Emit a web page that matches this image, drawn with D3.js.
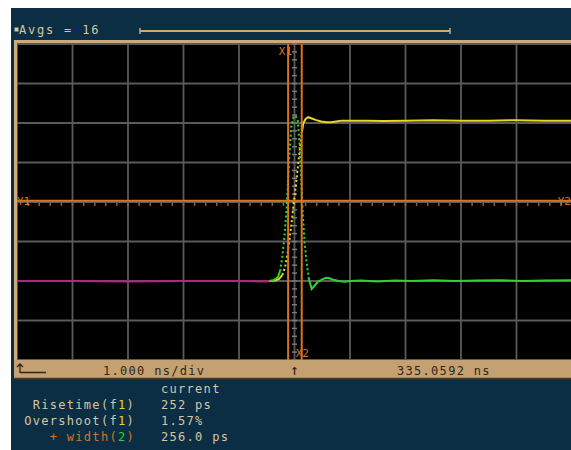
<!DOCTYPE html>
<html>
<head>
<meta charset="utf-8">
<script src="https://cdn.jsdelivr.net/npm/d3@7"></script>
<style>
html, body { margin: 0; padding: 0; background: #fff; }
svg { display: block; }
text { font-family: "DejaVu Sans Mono", monospace; }
</style>
</head>
<body>
<svg id="chart" width="571" height="450"></svg>
<script>
// screen is 10 x 8 divisions, time in ns from centre, amplitude in divisions
var timeTicks = [-5, -4, -3, -2, -1, 0, 1, 2, 3, 4, 5];
var ampTicks = [-4, -3, -2, -1, 0, 1, 2, 3, 4];

// channel 1 (yellow) - step
var ch1Time = [-0.45, -0.35, -0.28, -0.22, -0.17, -0.13, -0.09, -0.05, -0.01, 0.03, 0.07, 0.10, 0.13, 0.16, 0.20, 0.25, 0.30, 0.38, 0.48, 0.58, 0.66, 0.75, 0.85, 1.0, 1.3, 1.6, 2.0, 2.5, 3.0, 3.5, 4.0, 4.5, 5.0];
var ch1Val = [-2.0, -1.99, -1.95, -1.85, -1.65, -1.35, -0.95, -0.5, 0.0, 0.5, 1.0, 1.4, 1.75, 2.0, 2.1, 2.15, 2.12, 2.08, 2.04, 2.02, 2.02, 2.04, 2.06, 2.06, 2.06, 2.05, 2.06, 2.07, 2.06, 2.06, 2.07, 2.06, 2.06];

// channel 2 (green) - pulse
var ch2Time = [-0.45, -0.38, -0.30, -0.26, -0.22, -0.18, -0.14, -0.10, -0.06, -0.02, 0.02, 0.06, 0.09, 0.12, 0.15, 0.18, 0.22, 0.26, 0.31, 0.36, 0.42, 0.50, 0.57, 0.63, 0.70, 0.80, 0.90, 1.0, 1.2, 1.5, 1.8, 2.1, 2.5, 2.9, 3.3, 3.7, 4.1, 4.5, 5.0];
var ch2Val = [-2.0, -1.98, -1.9, -1.75, -1.4, -0.85, -0.13, 1.0, 1.9, 2.15, 2.18, 2.05, 1.5, 0.6, -0.3, -1.0, -1.55, -1.95, -2.2, -2.12, -2.02, -1.96, -1.92, -1.93, -1.97, -2.0, -2.02, -2.0, -1.99, -2.01, -1.99, -2.0, -1.98, -2.0, -1.99, -1.98, -2.0, -1.99, -1.98];

// reference trace (magenta) - baseline before the edge
var refTime = [-5, -4, -3, -2, -1, -0.6, -0.35];
var refVal = [-2.0, -2.0, -2.01, -2.0, -2.0, -2.01, -2.0];

var cursorNames = ['X1', 'X2'];
var cursorTimes = [-0.115, 0.13];
var cursorAmp = 0.03;

var avgLabel = 'Avgs = 16';
var statusTexts = ['1.000 ns/div', '335.0592 ns'];
var measHeader = 'current';
var measNames = ['Risetime(f', 'Overshoot(f', '+ width('];
var measSources = ['1', '1', '2'];
var measValues = ['252 ps', '1.57%', '256.0 ps'];

var svg = d3.select('#chart');
var bg = '#0c2e44', tan = '#cdaa78', beige = '#d6c6a0', grid = '#5a5a5a', orange = '#d8731e';
var yellow = '#e8d81e', green = '#2ed42e';

var x = d3.scaleLinear().domain([-5, 5]).range([17, 572]);
var y = d3.scaleLinear().domain([-4, 4]).range([360, 44]);

svg.append('rect').attr('x', 11).attr('y', 8).attr('width', 560).attr('height', 442).attr('fill', bg);

// top bar
svg.append('rect').attr('x', 14.5).attr('y', 27.5).attr('width', 4).attr('height', 4).attr('fill', beige);
svg.append('text').attr('x', 19).attr('y', 34).attr('font-size', 12).attr('letter-spacing', 1.8)
	.attr('fill', beige).text(avgLabel);
svg.append('line').attr('x1', 140).attr('x2', 450).attr('y1', 31).attr('y2', 31)
	.attr('stroke', tan).attr('stroke-width', 2);
[140, 450].forEach(function(px) {
	svg.append('line').attr('x1', px).attr('x2', px).attr('y1', 28).attr('y2', 34)
		.attr('stroke', tan).attr('stroke-width', 1.5);
});

// plot area
var plot = svg.append('g');
plot.append('rect').attr('x', x(-5)).attr('y', y(4)).attr('width', x(5) - x(-5)).attr('height', y(-4) - y(4)).attr('fill', '#000');

plot.append('g').selectAll('line').data(timeTicks).enter().append('line')
	.attr('x1', function(d) { return x(d); }).attr('x2', function(d) { return x(d); })
	.attr('y1', y(4)).attr('y2', y(-4))
	.attr('stroke', grid).attr('stroke-width', 1.8);
plot.append('g').selectAll('line').data(ampTicks).enter().append('line')
	.attr('y1', function(d) { return y(d); }).attr('y2', function(d) { return y(d); })
	.attr('x1', x(-5)).attr('x2', x(5))
	.attr('stroke', grid).attr('stroke-width', 1.8);

// minor ticks on the centre axes
var minorT = d3.range(-5, 5.001, 0.2);
var minorA = d3.range(-4, 4.001, 0.2);
plot.append('g').selectAll('line').data(minorT).enter().append('line')
	.attr('x1', function(d) { return x(d); }).attr('x2', function(d) { return x(d); })
	.attr('y1', y(0) + 1).attr('y2', y(0) + 4)
	.attr('stroke', '#6a6a6a').attr('stroke-width', 1.5);
plot.append('g').selectAll('line').data(minorA).enter().append('line')
	.attr('y1', function(d) { return y(d); }).attr('y2', function(d) { return y(d); })
	.attr('x1', x(0) - 2.5).attr('x2', x(0) + 2.5)
	.attr('stroke', '#7a7a7a').attr('stroke-width', 1.5);

// traces: the fast edges are sparsely sampled, so draw them dotted
var line = d3.line().x(function(d) { return x(d[0]); }).y(function(d) { return y(d[1]); });
function pairs(t, v) { return t.map(function(d, i) { return [d, v[i]]; }); }
function trace(data, color, t0, t1) {
	var before = data.filter(function(d) { return d[0] <= t0; });
	var edge = data.filter(function(d) { return d[0] >= t0 && d[0] <= t1; });
	var after = data.filter(function(d) { return d[0] >= t1; });
	[before, after].forEach(function(part) {
		plot.append('path').datum(part).attr('d', line)
			.attr('fill', 'none').attr('stroke', color).attr('stroke-width', 2);
	});
	plot.append('path').datum(edge).attr('d', line)
		.attr('fill', 'none').attr('stroke', color).attr('stroke-width', 2)
		.attr('stroke-dasharray', '2,2.5');
}

plot.append('path').datum(pairs(refTime, refVal)).attr('d', line)
	.attr('fill', 'none').attr('stroke', '#b8237f').attr('stroke-width', 2);
trace(pairs(ch1Time, ch1Val), yellow, -0.22, 0.13);
trace(pairs(ch2Time, ch2Val), green, -0.26, 0.26);

// cursors
plot.append('g').selectAll('line').data(cursorTimes).enter().append('line')
	.attr('x1', function(d) { return x(d); }).attr('x2', function(d) { return x(d); })
	.attr('y1', y(4)).attr('y2', y(-4))
	.attr('stroke', orange).attr('stroke-width', 2);
plot.append('line').attr('x1', x(-5)).attr('x2', x(5)).attr('y1', y(cursorAmp)).attr('y2', y(cursorAmp))
	.attr('stroke', orange).attr('stroke-width', 2);

plot.append('text').attr('x', x(cursorTimes[0]) + 4).attr('y', 55).attr('text-anchor', 'end')
	.attr('font-size', 11).attr('fill', orange).text(cursorNames[0]);
plot.append('text').attr('x', x(cursorTimes[1]) - 6).attr('y', 357)
	.attr('font-size', 11).attr('fill', orange).text(cursorNames[1]);
plot.append('text').attr('x', 17).attr('y', y(cursorAmp) + 4)
	.attr('font-size', 11).attr('fill', orange).text('Y1');
plot.append('text').attr('x', 571).attr('y', y(cursorAmp) + 4).attr('text-anchor', 'end')
	.attr('font-size', 11).attr('fill', orange).text('Y2');

// frame
svg.append('path').attr('d', 'M15.5,360 V41.5 H571').attr('fill', 'none').attr('stroke', tan).attr('stroke-width', 3);

// status bar
svg.append('rect').attr('x', 14).attr('y', 360).attr('width', 557).attr('height', 18).attr('fill', '#c5a172');
svg.append('line').attr('x1', 14).attr('x2', 571).attr('y1', 378.5).attr('y2', 378.5).attr('stroke', '#4a3c28').attr('stroke-width', 1.5);
svg.append('path').attr('d', 'M20,373 V364 M17,367 L20,364 L23,367 M20,372.5 H46')
	.attr('fill', 'none').attr('stroke', '#2e2618').attr('stroke-width', 1.3);
svg.append('text').attr('x', 103).attr('y', 375).attr('font-size', 12).attr('letter-spacing', 1.3)
	.attr('fill', '#2e2618').text(statusTexts[0]);
svg.append('text').attr('x', x(0)).attr('y', 375).attr('font-size', 15).attr('text-anchor', 'middle')
	.attr('fill', '#2e2618').text('\u2191');
svg.append('text').attr('x', 397).attr('y', 375).attr('font-size', 12).attr('letter-spacing', 1.3)
	.attr('fill', '#2e2618').text(statusTexts[1]);

// measurements
var meas = svg.append('g').attr('font-size', 12).attr('letter-spacing', 1.3);
meas.append('text').attr('x', 161).attr('y', 393).attr('fill', beige).text(measHeader);
measNames.forEach(function(name, i) {
	var yy = 409 + i * 16;
	var col = i < 2 ? beige : orange;
	var t = meas.append('text').attr('x', 135).attr('y', yy).attr('text-anchor', 'end');
	t.append('tspan').attr('fill', col).text(name);
	t.append('tspan').attr('fill', i < 2 ? yellow : green).text(measSources[i]);
	t.append('tspan').attr('fill', col).text(')');
	meas.append('text').attr('x', 161).attr('y', yy).attr('fill', beige).text(measValues[i]);
});
</script>
</body>
</html>
